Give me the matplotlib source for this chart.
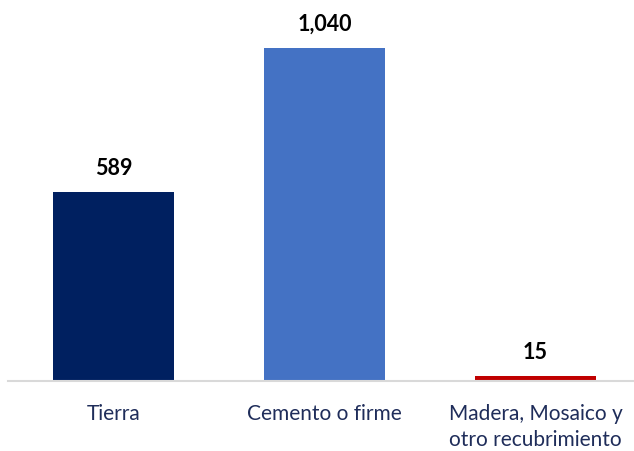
import matplotlib
matplotlib.use("Agg")
import matplotlib.pyplot as plt

categories = ["Tierra", "Cemento o firme", "Madera, Mosaico y\notro recubrimiento"]
values = [589, 1040, 15]
labels = ["589", "1,040", "15"]
colors = ["#002060", "#4472C4", "#C00000"]

plt.rcParams['font.family'] = ['Lato', 'DejaVu Sans']

fig = plt.figure(figsize=(6.34, 4.52), dpi=100)
ax = fig.add_axes([8/634, 70/452, 626/634, 382/452])
x = list(range(len(categories)))
bars = ax.bar(x, values, width=0.573, color=colors, zorder=2)
ax.set_xlim(-0.5, 2.467)
ax.set_ylim(0, 1193)

for xi, v, lab in zip(x, values, labels):
    ax.annotate(lab, (xi, v), xytext=(0, 25), textcoords='offset pixels',
                ha='center', va='center', fontsize=15.5, fontweight='bold', color='black')

ax.set_xticks(x)
ax.set_xticklabels(categories, fontsize=15, color='#1F2D5A', linespacing=1.4, va='top')
ax.tick_params(axis='x', length=0, pad=15.5)
ax.set_yticks([])
for s in ['top', 'right', 'left']:
    ax.spines[s].set_visible(False)
ax.spines['bottom'].set_color('#D9D9D9')
ax.spines['bottom'].set_linewidth(1.5)

fig.savefig("out.png", dpi=100)
